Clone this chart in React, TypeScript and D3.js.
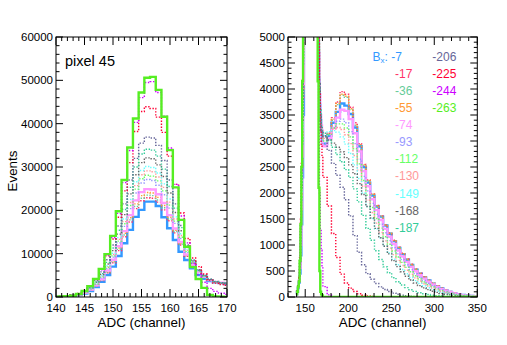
import React from 'react';
import * as d3 from 'd3';

// bin centres (ADC channel), pedestal region has 1-channel bins, tail has 5-channel bins
const pedChannels = d3.range(140, 171);
const tailChannels = d3.range(173, 349, 5);

const bxLabels = ['-7', '-17', '-36', '-55', '-74', '-93', '-112', '-130', '-149', '-168', '-187', '-206', '-225', '-244', '-263'];
const colors = ['#3399ff', '#ff3366', '#66cc99', '#ff9933', '#ff99ff', '#9999ff', '#66ff66', '#ff9999', '#66ffff', '#666666', '#33cc99', '#666699', '#ff0033', '#cc00ff', '#55ee22'];
const solidLine = [true, false, false, false, true, false, false, false, false, false, false, false, false, false, true];

const pedM7 = [50, 100, 170, 280, 450, 800, 1400, 2300, 3500, 5080, 7000, 9460, 12400, 15500, 18500, 20100, 22000, 22000, 21000, 18400, 15850, 13150, 10450, 8540, 6620, 5080, 4200, 3700, 3400, 3200, 3000];
const pedM17 = [50, 100, 170, 290, 520, 930, 1560, 2500, 3800, 5600, 7900, 10700, 13900, 17300, 20400, 22200, 22900, 22800, 21900, 20100, 17600, 14800, 12000, 9400, 7300, 5700, 4700, 4000, 3500, 3300, 3100];
const pedM36 = [50, 100, 180, 300, 530, 950, 1600, 2550, 3900, 5750, 8100, 11000, 14300, 17800, 20900, 22800, 23500, 23400, 22400, 20600, 18000, 15100, 12200, 9500, 7300, 5700, 4600, 3900, 3400, 3200, 3100];
const pedM55 = [50, 100, 180, 310, 540, 970, 1650, 2600, 4000, 5900, 8300, 11300, 14700, 18300, 21500, 23400, 24100, 24000, 23000, 21100, 18400, 15400, 12400, 9600, 7400, 5700, 4600, 3900, 3500, 3300, 3200];
const pedM74 = [50, 100, 190, 320, 560, 1000, 1700, 2700, 4100, 6100, 8600, 11700, 15200, 18900, 22300, 24200, 24900, 24800, 23700, 21700, 18900, 15800, 12700, 9800, 7500, 5800, 4700, 3900, 3500, 3300, 3200];
const pedM93 = [60, 100, 200, 340, 590, 1070, 1830, 2900, 4450, 6550, 9200, 12500, 16300, 20400, 24000, 26300, 27100, 26900, 25800, 23600, 20500, 17000, 13500, 10300, 7800, 6000, 4800, 4000, 3500, 3300, 3200];
const pedM112 = [60, 110, 210, 350, 610, 1100, 1900, 3000, 4600, 6800, 9500, 12900, 16900, 21100, 24900, 27300, 28100, 27900, 26800, 24500, 21200, 17500, 13800, 10500, 7900, 6000, 4800, 4000, 3500, 3300, 3200];
const pedM130 = [60, 110, 220, 360, 630, 1150, 1950, 3100, 4750, 7000, 9800, 13300, 17400, 21800, 25700, 28200, 29100, 28900, 27700, 25300, 21900, 18000, 14200, 10800, 8000, 6100, 4900, 4000, 3500, 3300, 3200];
const pedM149 = [60, 110, 230, 370, 650, 1200, 2000, 3200, 4900, 7200, 10100, 13700, 18000, 22500, 26600, 29200, 30100, 29900, 28600, 26100, 22600, 18500, 14600, 11000, 8100, 6100, 4900, 4000, 3500, 3300, 3200];
const pedM168 = [60, 120, 240, 380, 680, 1250, 2100, 3400, 5200, 7600, 10700, 14500, 19000, 23800, 28200, 31000, 32100, 31900, 30500, 27800, 24000, 19500, 15300, 11400, 8300, 6200, 4900, 4000, 3500, 3200, 3100];
const pedM187 = [60, 120, 250, 400, 700, 1300, 2200, 3500, 5400, 8000, 11300, 15400, 20200, 25300, 30000, 33000, 34100, 33900, 32500, 29500, 25500, 20500, 16000, 11800, 8500, 6300, 5000, 4100, 3600, 3300, 3200];
const pedM206 = [60, 120, 250, 400, 750, 1400, 2400, 3800, 5800, 8600, 12000, 16400, 21500, 27000, 32000, 35500, 36900, 36700, 35000, 31500, 27000, 21500, 16500, 12000, 8500, 6300, 5100, 4100, 3500, 3300, 3200];
const pedM225 = [60, 120, 250, 400, 800, 1500, 2600, 4200, 6400, 9500, 13400, 18400, 24500, 31000, 38200, 42800, 43900, 43500, 41500, 38000, 32500, 26000, 19400, 13500, 9000, 7000, 5300, 3900, 3200, 2900, 2700];
const pedM244 = [50, 100, 200, 300, 650, 1300, 2400, 4000, 6300, 9600, 13700, 19300, 26400, 33800, 40300, 46000, 49500, 49700, 47200, 41700, 34400, 26000, 18700, 12500, 7800, 5200, 3400, 2000, 1300, 900, 600];
const pedM263 = [50, 100, 200, 300, 700, 1400, 2500, 4150, 6500, 9900, 14100, 19800, 27000, 34500, 41200, 47200, 50600, 50800, 47800, 41600, 33900, 25300, 17800, 11600, 6900, 4150, 2100, 500, 100, 50, 30];

const tailM7 = [2950, 3100, 3350, 3560, 3720, 3680, 3520, 3260, 2900, 2500, 2200, 1950, 1740, 1545, 1375, 1215, 1075, 945, 825, 715, 615, 525, 448, 378, 316, 258, 208, 163, 128, 98, 74, 54, 39, 28, 20, 14];
const tailM17 = [2900, 3150, 3450, 3750, 3950, 3900, 3650, 3350, 2950, 2550, 2250, 1980, 1760, 1560, 1390, 1230, 1090, 960, 840, 730, 630, 540, 460, 390, 325, 265, 215, 170, 135, 105, 78, 58, 42, 30, 21, 15];
const tailM36 = [2900, 3120, 3400, 3700, 3880, 3840, 3600, 3300, 2920, 2530, 2230, 1970, 1750, 1550, 1380, 1220, 1080, 950, 830, 720, 620, 530, 452, 382, 320, 262, 212, 166, 131, 101, 76, 56, 40, 29, 20, 14];
const tailM55 = [2920, 3130, 3420, 3720, 3900, 3860, 3620, 3310, 2930, 2540, 2240, 1975, 1755, 1555, 1385, 1225, 1085, 955, 835, 725, 625, 535, 455, 385, 322, 263, 213, 168, 132, 102, 77, 56, 41, 29, 21, 15];
const tailM74 = [2900, 3050, 3250, 3450, 3600, 3580, 3420, 3150, 2800, 2420, 2130, 1880, 1670, 1480, 1310, 1160, 1020, 895, 780, 675, 580, 495, 420, 354, 295, 240, 193, 152, 119, 91, 69, 50, 36, 26, 18, 13];
const tailM93 = [2950, 3100, 3250, 3380, 3420, 3350, 3180, 2950, 2650, 2320, 2040, 1800, 1590, 1400, 1235, 1085, 950, 830, 720, 620, 530, 450, 380, 318, 264, 215, 172, 135, 105, 80, 60, 44, 32, 23, 16, 11];
const tailM112 = [3000, 3130, 3250, 3330, 3330, 3250, 3080, 2850, 2560, 2240, 1960, 1720, 1510, 1325, 1160, 1015, 885, 770, 665, 570, 485, 410, 345, 288, 238, 193, 154, 121, 94, 72, 54, 40, 29, 21, 15, 10];
const tailM130 = [3050, 3150, 3230, 3260, 3220, 3120, 2950, 2720, 2440, 2130, 1860, 1625, 1420, 1240, 1080, 940, 815, 705, 605, 515, 437, 368, 308, 256, 211, 171, 137, 107, 83, 63, 47, 35, 25, 18, 13, 9];
const tailM149 = [3100, 3180, 3200, 3170, 3080, 2940, 2760, 2540, 2280, 2000, 1740, 1510, 1310, 1135, 980, 845, 725, 620, 528, 447, 376, 315, 262, 216, 177, 143, 114, 89, 69, 53, 40, 30, 22, 16, 11, 8];
const tailM168 = [3080, 3020, 2960, 2880, 2790, 2680, 2540, 2370, 2180, 1970, 1740, 1520, 1320, 1140, 975, 830, 700, 585, 485, 400, 328, 268, 218, 176, 141, 112, 88, 68, 52, 40, 30, 22, 16, 11, 8, 5];
const tailM187 = [3150, 3020, 2880, 2740, 2600, 2450, 2300, 2080, 1830, 1570, 1320, 1090, 890, 720, 580, 465, 370, 292, 230, 180, 140, 108, 82, 62, 47, 35, 26, 19, 14, 10, 7, 5, 3, 2, 1, 1];
const tailM206 = [3100, 2820, 2570, 2340, 2110, 1870, 1560, 1180, 860, 620, 450, 340, 260, 195, 145, 105, 75, 52, 35, 23, 15, 10, 6, 4, 2, 1, 0, 0, 0, 0, 0, 0, 0, 0, 0, 0];
const tailM225 = [2300, 1750, 1220, 760, 440, 270, 170, 105, 62, 35, 18, 9, 4, 2, 1, 0, 0, 0, 0, 0, 0, 0, 0, 0, 0, 0, 0, 0, 0, 0, 0, 0, 0, 0, 0, 0];
const tailM244 = [200, 40, 8, 2, 0, 0, 0, 0, 0, 0, 0, 0, 0, 0, 0, 0, 0, 0, 0, 0, 0, 0, 0, 0, 0, 0, 0, 0, 0, 0, 0, 0, 0, 0, 0, 0];
const tailM263 = [0, 0, 0, 0, 0, 0, 0, 0, 0, 0, 0, 0, 0, 0, 0, 0, 0, 0, 0, 0, 0, 0, 0, 0, 0, 0, 0, 0, 0, 0, 0, 0, 0, 0, 0, 0];

const pedestals = [pedM7, pedM17, pedM36, pedM55, pedM74, pedM93, pedM112, pedM130, pedM149, pedM168, pedM187, pedM206, pedM225, pedM244, pedM263];
const tails = [tailM7, tailM17, tailM36, tailM55, tailM74, tailM93, tailM112, tailM130, tailM149, tailM168, tailM187, tailM206, tailM225, tailM244, tailM263];

const leftYTicks = [0, 10000, 20000, 30000, 40000, 50000, 60000];
const leftXTicks = [140, 145, 150, 155, 160, 165, 170];
const rightYTicks = [0, 500, 1000, 1500, 2000, 2500, 3000, 3500, 4000, 4500, 5000];
const rightXTicks = [150, 200, 250, 300, 350];

const FONT = '"Liberation Sans", Arial, Helvetica, sans-serif';
const W = 507, H = 345;
const top = 37, bottom = 297;

const pedEdges = pedChannels.map(c => c - 0.5).concat([170.5]);
const tailEdges = tailChannels.map(c => c + 2.5);

function stepPath(x, y, edges, values) {
  const pts = values.map((v, i) => [edges[i], v]);
  pts.push([edges[edges.length - 1], values[values.length - 1]]);
  return d3.line().x(d => x(d[0])).y(d => y(d[1])).curve(d3.curveStepAfter)(pts);
}

function Frame({ id, x, y, xMinor, xMajor, yMinor, yMajor, xTicks, yTicks, children }) {
  const [x0, x1] = x.range();
  const ticks = [];
  xMinor.forEach(v => {
    const big = xMajor.includes(v);
    const l = big ? 8 : 4;
    ticks.push(<line key={'xb' + v} x1={x(v)} x2={x(v)} y1={bottom} y2={bottom - l} />);
    ticks.push(<line key={'xt' + v} x1={x(v)} x2={x(v)} y1={top} y2={top + l} />);
  });
  yMinor.forEach(v => {
    const big = yMajor.includes(v);
    const l = big ? 7 : 3.5;
    ticks.push(<line key={'yl' + v} x1={x0} x2={x0 + l} y1={y(v)} y2={y(v)} />);
    ticks.push(<line key={'yr' + v} x1={x1} x2={x1 - l} y1={y(v)} y2={y(v)} />);
  });
  return (
    <g>
      <defs>
        <clipPath id={id}>
          <rect x={x0} y={top} width={x1 - x0} height={bottom - top} />
        </clipPath>
      </defs>
      <g clipPath={`url(#${id})`}>{children}</g>
      <g stroke="#000" strokeWidth={1}>{ticks}</g>
      <rect x={x0} y={top} width={x1 - x0} height={bottom - top} fill="none" stroke="#000" strokeWidth={1} />
      <g fontFamily={FONT} fontSize={11.5} fill="#000">
        {yTicks.map(v => (
          <text key={'ly' + v} x={x0 - 3} y={y(v)} dy="0.36em" textAnchor="end">{v}</text>
        ))}
        {xTicks.map(v => (
          <text key={'lx' + v} x={x(v)} y={312} textAnchor="middle">{v}</text>
        ))}
      </g>
      <text x={(x0 + x1) / 2} y={327} textAnchor="middle" fontFamily={FONT} fontSize={13.4}>ADC (channel)</text>
    </g>
  );
}

export default function App() {
  const xL = d3.scaleLinear().domain([140, 170]).range([56, 227]);
  const yL = d3.scaleLinear().domain([0, 60000]).range([bottom, top]);
  const xR = d3.scaleLinear().domain([130, 350]).range([288, 477.3]);
  const yR = d3.scaleLinear().domain([0, 5000]).range([bottom, top]);

  const order = d3.range(bxLabels.length);

  const lineProps = i => solidLine[i]
    ? { stroke: colors[i], strokeWidth: 2.4, fill: 'none' }
    : { stroke: colors[i], strokeWidth: 1.4, strokeDasharray: '1.4 1.6', fill: 'none' };

  const col1 = bxLabels.slice(0, 11);
  const col2 = bxLabels.slice(11);

  return (
    <svg width={W} height={H} style={{ position: 'absolute', left: 0, top: 0, background: '#fff' }}>
      <rect width={W} height={H} fill="#fff" />
      <Frame id="clipL" x={xL} y={yL}
        xMinor={d3.range(140, 171)} xMajor={leftXTicks}
        yMinor={d3.range(0, 60001, 2000)} yMajor={leftYTicks}
        xTicks={leftXTicks} yTicks={leftYTicks}>
        {order.map(i => (
          <path key={i} d={stepPath(xL, yL, pedEdges, pedestals[i])} {...lineProps(i)} />
        ))}
      </Frame>
      <text x={65} y={66} fontFamily={FONT} fontSize={14.5}>pixel 45</text>
      <text transform="translate(17,171) rotate(-90)" textAnchor="middle" fontFamily={FONT} fontSize={13.4}>Events</text>

      <Frame id="clipR" x={xR} y={yR}
        xMinor={d3.range(130, 351, 10)} xMajor={rightXTicks}
        yMinor={d3.range(0, 5001, 100)} yMajor={rightYTicks}
        xTicks={rightXTicks} yTicks={rightYTicks}>
        {order.map(i => (
          <path key={i} d={stepPath(xR, yR, pedEdges.concat(tailEdges), pedestals[i].concat(tails[i]))} {...lineProps(i)} />
        ))}
      </Frame>

      <g fontFamily={FONT} fontSize={12}>
        <text x={372.5} y={60.7} fill={colors[0]}>
          B<tspan fontSize={8} dy={2.5}>x</tspan><tspan dy={-2.5}>: {col1[0]}</tspan>
        </text>
        {col1.slice(1).map((t, k) => (
          <text key={t} x={395} y={60.7 + (k + 1) * 17.1} fill={colors[k + 1]}>{t}</text>
        ))}
        {col2.map((t, k) => (
          <text key={t} x={432.3} y={60.7 + k * 17.1} fill={colors[11 + k]}>{t}</text>
        ))}
      </g>
    </svg>
  );
}
